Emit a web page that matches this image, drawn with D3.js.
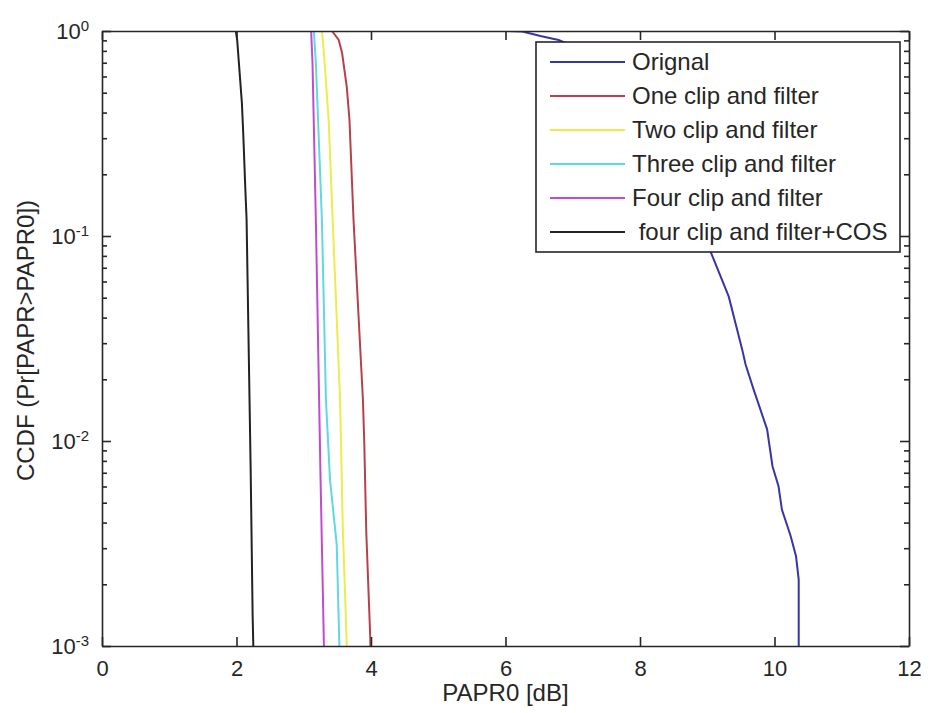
<!DOCTYPE html>
<html>
<head>
<meta charset="utf-8">
<script src="https://cdn.jsdelivr.net/npm/d3@7"></script>
<style>
  body { margin: 0; background: #fff; }
  svg { font-family: "Liberation Sans", Arial, sans-serif; }
  .axis path, .axis line { stroke: #262626; stroke-width: 1.6; }
  .axis text { fill: #262626; font-size: 22px; }
</style>
</head>
<body>
<svg></svg>
<script>
// chart data
const xTicks = [0, 2, 4, 6, 8, 10, 12];
const yExps = [0, -1, -2, -3];

const seriesNames = ["Orignal", "One clip and filter", "Two clip and filter",
    "Three clip and filter", "Four clip and filter", " four clip and filter+COS"];
const seriesColors = ["#3636a6", "#b8404a", "#ecec4c", "#60d8e2", "#c24ad2", "#222222"];

// PAPR0 [dB] and CCDF pairs for each curve
const origX = [6.0, 6.25, 6.52, 6.79, 7.5, 8.3, 8.8, 9.05, 9.32, 9.52, 9.57, 9.69, 9.89, 9.97, 10.06, 10.11, 10.24, 10.32, 10.36, 10.36];
const origP = [1, 0.995, 0.945, 0.904, 0.72, 0.4, 0.17, 0.0838, 0.0506, 0.0279, 0.0236, 0.0178, 0.0114, 0.00753, 0.00601, 0.00463, 0.00344, 0.00274, 0.00211, 0.001];
const oneX = [3.42, 3.52, 3.57, 3.64, 3.68, 3.74, 3.88, 3.90, 3.93, 3.99, 3.99];
const oneP = [1, 0.904, 0.781, 0.533, 0.368, 0.12, 0.0159, 0.0098, 0.00358, 0.00108, 0.001];
const twoX = [3.27, 3.30, 3.37, 3.43, 3.54, 3.58, 3.64];
const twoP = [1, 0.781, 0.368, 0.12, 0.0159, 0.00383, 0.001];
const threeX = [3.15, 3.18, 3.27, 3.33, 3.39, 3.49, 3.53];
const threeP = [1, 0.7, 0.12, 0.0159, 0.0065, 0.00313, 0.001];
const fourX = [3.11, 3.13, 3.18, 3.25, 3.30];
const fourP = [1, 0.7, 0.12, 0.0065, 0.001];
const cosX = [1.99, 2.01, 2.08, 2.10, 2.13, 2.15, 2.21, 2.24, 2.25];
const cosP = [1, 0.904, 0.446, 0.318, 0.174, 0.12, 0.0075, 0.0014, 0.001];

const allX = [origX, oneX, twoX, threeX, fourX, cosX];
const allP = [origP, oneP, twoP, threeP, fourP, cosP];

const width = 929, height = 713;
const mLeft = 102, mRight = 909, mTop = 31, mBottom = 646;

const svg = d3.select("svg").attr("width", width).attr("height", height);

const x = d3.scaleLinear().domain([0, 12]).range([mLeft, mRight]);
const y = d3.scaleLog().domain([1e-3, 1]).range([mBottom, mTop]);

// minor log ticks
const minorVals = [];
yExps.slice(1).forEach(e => {
    for (let k = 2; k <= 9; k++) minorVals.push(k * Math.pow(10, e));
});
const majorVals = yExps.map(e => Math.pow(10, e));

// curves (clipped to the axes box)
svg.append("clipPath").attr("id", "clip")
    .append("rect").attr("x", mLeft).attr("y", mTop)
    .attr("width", mRight - mLeft).attr("height", mBottom - mTop);

const line = d3.line().x(d => x(d[0])).y(d => y(d[1]));
const curves = svg.append("g").attr("clip-path", "url(#clip)");
allX.forEach((xs, i) => {
    const pts = xs.map((v, j) => [v, allP[i][j]]);
    curves.append("path")
        .datum(pts)
        .attr("d", line)
        .attr("fill", "none")
        .attr("stroke", seriesColors[i])
        .attr("stroke-width", 2);
});

// axes with inward ticks on all four sides
svg.append("g").attr("class", "axis")
    .attr("transform", `translate(0,${mBottom})`)
    .call(d3.axisBottom(x).tickValues(xTicks).tickSize(-9).tickSizeOuter(0).tickPadding(14));
svg.append("g").attr("class", "axis")
    .attr("transform", `translate(0,${mTop})`)
    .call(d3.axisTop(x).tickValues(xTicks).tickSize(-9).tickSizeOuter(0).tickFormat(""));

const yLeft = svg.append("g").attr("class", "axis")
    .attr("transform", `translate(${mLeft},0)`)
    .call(d3.axisLeft(y).tickValues(majorVals).tickSize(-9).tickSizeOuter(0).tickFormat(""));
svg.append("g").attr("class", "axis")
    .attr("transform", `translate(${mLeft},0)`)
    .call(d3.axisLeft(y).tickValues(minorVals).tickSize(-5).tickSizeOuter(0).tickFormat(""))
    .select(".domain").remove();
svg.append("g").attr("class", "axis")
    .attr("transform", `translate(${mRight},0)`)
    .call(d3.axisRight(y).tickValues(majorVals).tickSize(-9).tickSizeOuter(0).tickFormat(""));
svg.append("g").attr("class", "axis")
    .attr("transform", `translate(${mRight},0)`)
    .call(d3.axisRight(y).tickValues(minorVals).tickSize(-5).tickSizeOuter(0).tickFormat(""))
    .select(".domain").remove();

// y tick labels as 10^n
yLeft.selectAll(".tick").each(function(d) {
    const t = d3.select(this).append("text")
        .attr("x", -13).attr("dy", "0.36em")
        .attr("text-anchor", "end");
    t.append("tspan").text("10");
    t.append("tspan").attr("dy", "-0.55em").attr("font-size", "15px")
        .text(Math.round(Math.log10(d)));
});

// axis titles
svg.append("text")
    .attr("x", (mLeft + mRight) / 2).attr("y", 701)
    .attr("text-anchor", "middle")
    .attr("font-size", "24px").attr("fill", "#262626")
    .text("PAPR0 [dB]");
svg.append("text")
    .attr("transform", `translate(34,${(mTop + mBottom) / 2 + 2}) rotate(-90)`)
    .attr("text-anchor", "middle")
    .attr("font-size", "24px").attr("fill", "#262626")
    .text("CCDF (Pr[PAPR>PAPR0])");

// legend
const lg = svg.append("g");
lg.append("rect")
    .attr("x", 536).attr("y", 42).attr("width", 364).attr("height", 210)
    .attr("fill", "#fff").attr("stroke", "#262626").attr("stroke-width", 1.6);
seriesNames.forEach((name, i) => {
    const cy = 62 + i * 34;
    lg.append("line")
        .attr("x1", 550).attr("x2", 625).attr("y1", cy).attr("y2", cy)
        .attr("stroke", seriesColors[i]).attr("stroke-width", 2);
    lg.append("text")
        .attr("x", 632).attr("y", cy + 8)
        .attr("font-size", "24px").attr("fill", "#262626")
        .style("white-space", "pre")
        .text(name);
});
</script>
</body>
</html>
